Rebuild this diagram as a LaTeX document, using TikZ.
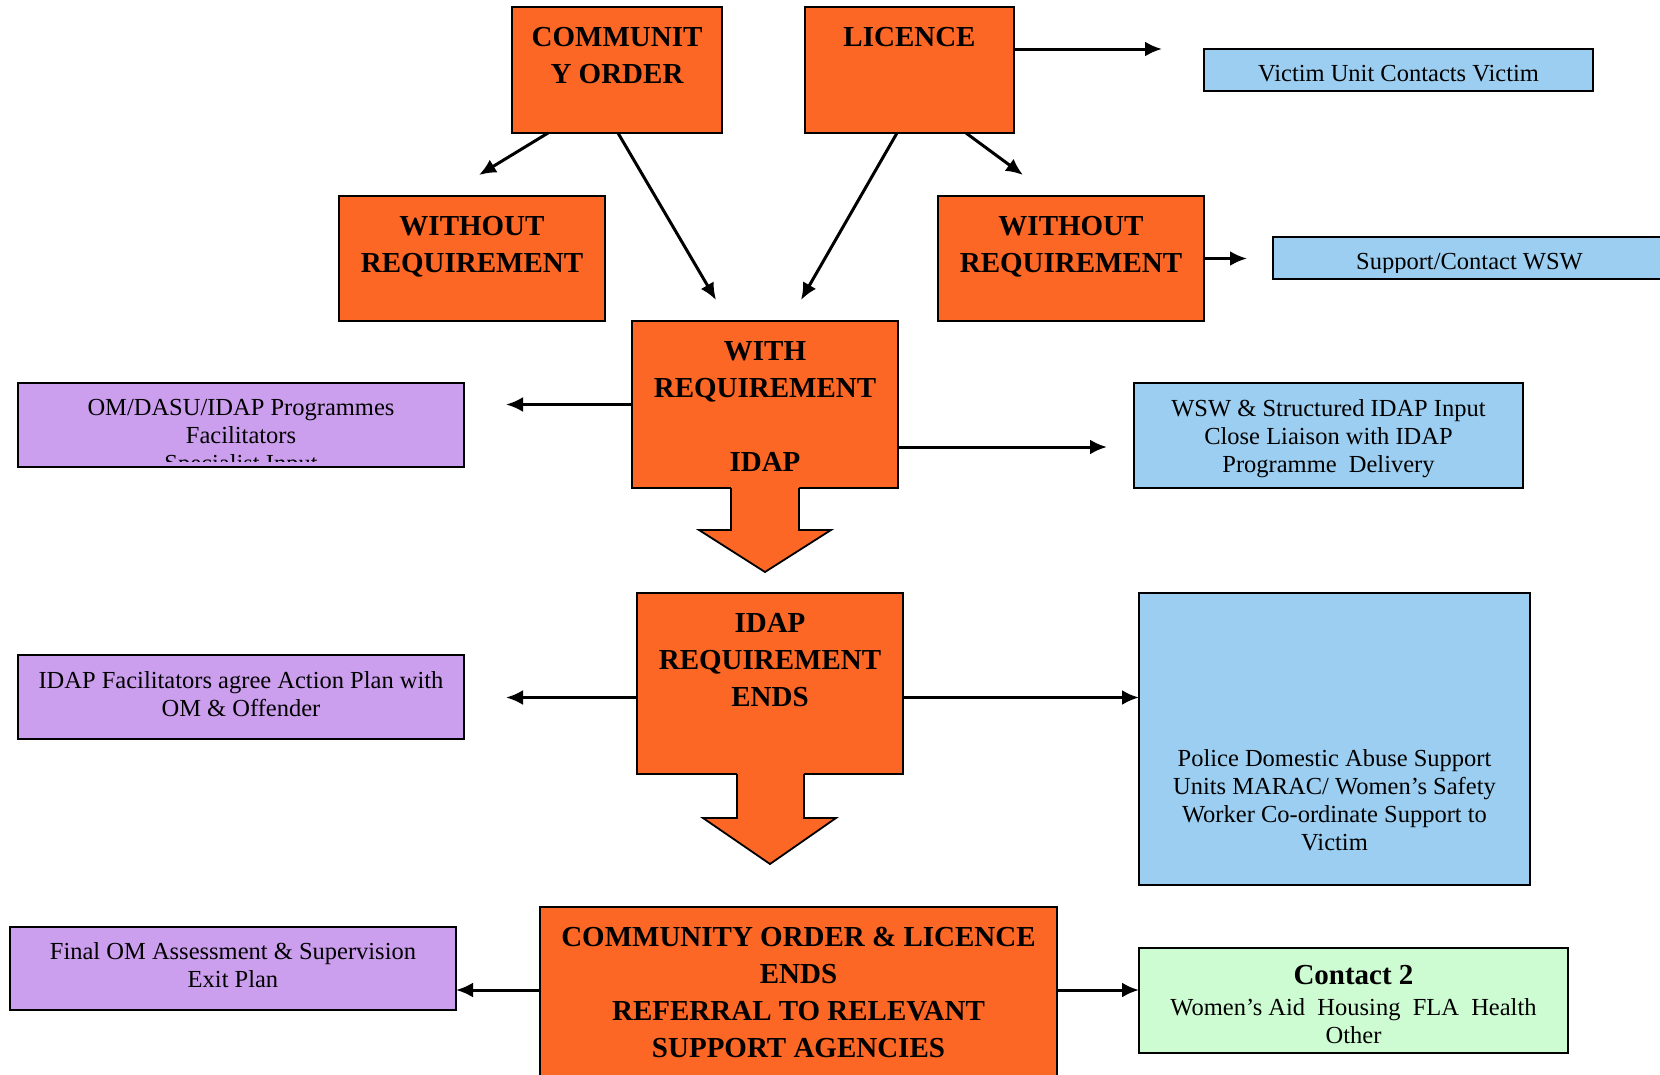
\documentclass[tikz,border=0pt]{standalone}
\usepackage{fontspec}
\setmainfont{Liberation Serif}
\usetikzlibrary{arrows.meta}
\usetikzlibrary{positioning}

\definecolor{orangebox}{RGB}{253,103,38}
\definecolor{bluebox}{RGB}{155,206,240}
\definecolor{purplebox}{RGB}{204,158,238}
\definecolor{greenbox}{RGB}{206,252,210}

\begin{document}
\begin{tikzpicture}[x=1pt, y=-1pt,
    box/.style={draw, line width=1.8pt, inner sep=0pt, outer sep=0pt},
    obox/.style={box, fill=orangebox},
    bbox/.style={box, fill=bluebox},
    pbox/.style={box, fill=purplebox},
    gbox/.style={box, fill=greenbox},
    otext/.style={anchor=north, align=center, inner sep=0pt, font=\bfseries\fontsize{29}{37}\selectfont},
    ntext/.style={anchor=north, align=center, inner sep=0pt, font=\fontsize{24.5}{28}\selectfont},
    conn/.style={line width=3pt, -{Latex[length=17pt,width=15pt]}}]
    \useasboundingbox (0,0) rectangle (1660,1074);
    \clip (0,0) rectangle (1660,1074);

    % orders and requirement boxes
    \node [obox, minimum width=210, minimum height=126] (co) at (617,70) {};
    \node [obox, minimum width=209, minimum height=126] (li) at (909.5,70) {};
    \node [obox, minimum width=266, minimum height=125] (wo1) at (472,258.5) {};
    \node [obox, minimum width=266, minimum height=125] (wo2) at (1071,258.5) {};
    \node [obox, minimum width=266, minimum height=167] (wr) at (765,404.5) {};
    \node [obox, minimum width=266, minimum height=181] (ie) at (770,683.5) {};
    \node [obox, minimum width=517, minimum height=193] (ce) at (798.5,1003.5) {};

    % side boxes
    \node [bbox, minimum width=389, minimum height=42] (vu) at (1398.5,70) {};
    \node [bbox, minimum width=393, minimum height=42] (sw) at (1469.5,258) {};
    \node [pbox, minimum width=446, minimum height=84] (om) at (241,425) {};
    \node [bbox, minimum width=389, minimum height=105] (ws) at (1328.5,435.5) {};
    \node [pbox, minimum width=446, minimum height=84] (fa) at (241,697) {};
    \node [bbox, minimum width=391, minimum height=292] (pd) at (1334.5,739) {};
    \node [pbox, minimum width=446, minimum height=83] (fo) at (233,968.5) {};
    \node [gbox, minimum width=429, minimum height=105] (c2) at (1353.5,1000.5) {};

    % block arrows
    \fill [orangebox] (731,486) -- (731,530) -- (699,530) -- (765,572) -- (831,530) -- (799,530) -- (799,486) -- cycle;
    \draw [line width=1.8pt, line join=miter] (731,488) -- (731,530) -- (699,530) -- (765,572) -- (831,530) -- (799,530) -- (799,488);
    \fill [orangebox] (737,772) -- (737,818) -- (703,818) -- (770,864) -- (836,818) -- (804,818) -- (804,772) -- cycle;
    \draw [line width=1.8pt, line join=miter] (737,774) -- (737,818) -- (703,818) -- (770,864) -- (836,818) -- (804,818) -- (804,774);

    % texts
    \node [otext] (coT) at ([yshift=-20pt]co.north) {COMMUNIT\\Y ORDER};
    \node [otext] (liT) at ([yshift=-20pt]li.north) {LICENCE};
    \node [otext] (wo1T) at ([yshift=-20pt]wo1.north) {WITHOUT\\REQUIREMENT};
    \node [otext] (wo2T) at ([yshift=-20pt]wo2.north) {WITHOUT\\REQUIREMENT};
    \node [otext] (wrT) at ([yshift=-20pt]wr.north) {WITH\\REQUIREMENT\\[37pt]IDAP};
    \node [otext] (ieT) at ([yshift=-20pt]ie.north) {IDAP\\REQUIREMENT\\ENDS};
    \node [otext] (ceT) at ([yshift=-20pt]ce.north) {COMMUNITY ORDER \& LICENCE\\ENDS\\REFERRAL TO RELEVANT\\SUPPORT AGENCIES};

    \node [ntext] (vuT) at ([yshift=-16pt]vu.north) {Victim Unit Contacts Victim};
    \begin{scope}
      \clip ([yshift=7pt]sw.south west) rectangle (sw.north east);
      \node [ntext] (swT) at ([yshift=-16.5pt]sw.north) {Support/Contact WSW};
    \end{scope}
    \begin{scope}
      \clip ([yshift=6pt]om.south west) rectangle (om.north east);
      \node [ntext] (omT) at ([yshift=-16.5pt]om.north) {OM/DASU/IDAP Programmes\\Facilitators\\Specialist Input};
    \end{scope}
    \node [ntext] (wsT) at ([yshift=-16.5pt]ws.north) {WSW \& Structured IDAP Input\\Close Liaison with IDAP\\Programme\ \ Delivery};
    \node [ntext] (faT) at ([yshift=-16.5pt]fa.north) {IDAP Facilitators agree Action Plan with\\OM \& Offender};
    \node [ntext] (pdT) at ([yshift=-156pt]pd.north) {Police Domestic Abuse Support\\Units MARAC/ Women’s Safety\\Worker Co-ordinate Support to\\Victim};
    \node [ntext] (foT) at ([yshift=-15.5pt]fo.north) {Final OM Assessment \& Supervision\\Exit Plan};
    \node [ntext] (c2T) at ([yshift=-17pt]c2.north) {{\bfseries\fontsize{29}{31}\selectfont Contact 2}\\[3pt]Women’s Aid\ \ Housing\ \ FLA\ \ Health\\Other};

    % free arrow ends
    \coordinate (coL) at (479,175);
    \coordinate (coR) at (716,300);
    \coordinate (liL) at (801,300);
    \coordinate (liR) at (1023,175);
    \coordinate (liV) at (1162,49);
    \coordinate (woS) at (1247,258.5);
    \coordinate (wrL) at (506,404.5);
    \coordinate (wrR) at (1107,447);
    \coordinate (ieL) at ([yshift=-14pt]ie.west);
    \coordinate (ieA) at (506,697.5);
    \coordinate (ieR) at ([yshift=-14pt]ie.east);
    \coordinate (ceL) at ([yshift=-83pt]ce.north west);
    \coordinate (ceR) at ([yshift=-83pt]ce.north east);

    % connectors
    \draw [conn] ([xshift=36pt]co.south west) -- (coL);
    \draw [conn] ([xshift=106pt]co.south west) -- (coR);
    \draw [conn] ([xshift=92pt]li.south west) -- (liL);
    \draw [conn] ([xshift=161pt]li.south west) -- (liR);
    \draw [conn] ([yshift=-42pt]li.north east) -- (liV);
    \draw [conn] (wo2.east) -- (woS);
    \draw [conn] (wr.west) -- (wrL);
    \draw [conn] ([yshift=-42.5pt]wr.east) -- (wrR);
    \draw [conn] (ieL) -- (ieA);
    \draw [conn] (ieR) -- (ieR -| pd.west);
    \draw [conn] (ceL) -- (ceL -| fo.east);
    \draw [conn] (ceR) -- (ceR -| c2.west);
\end{tikzpicture}
\end{document}
